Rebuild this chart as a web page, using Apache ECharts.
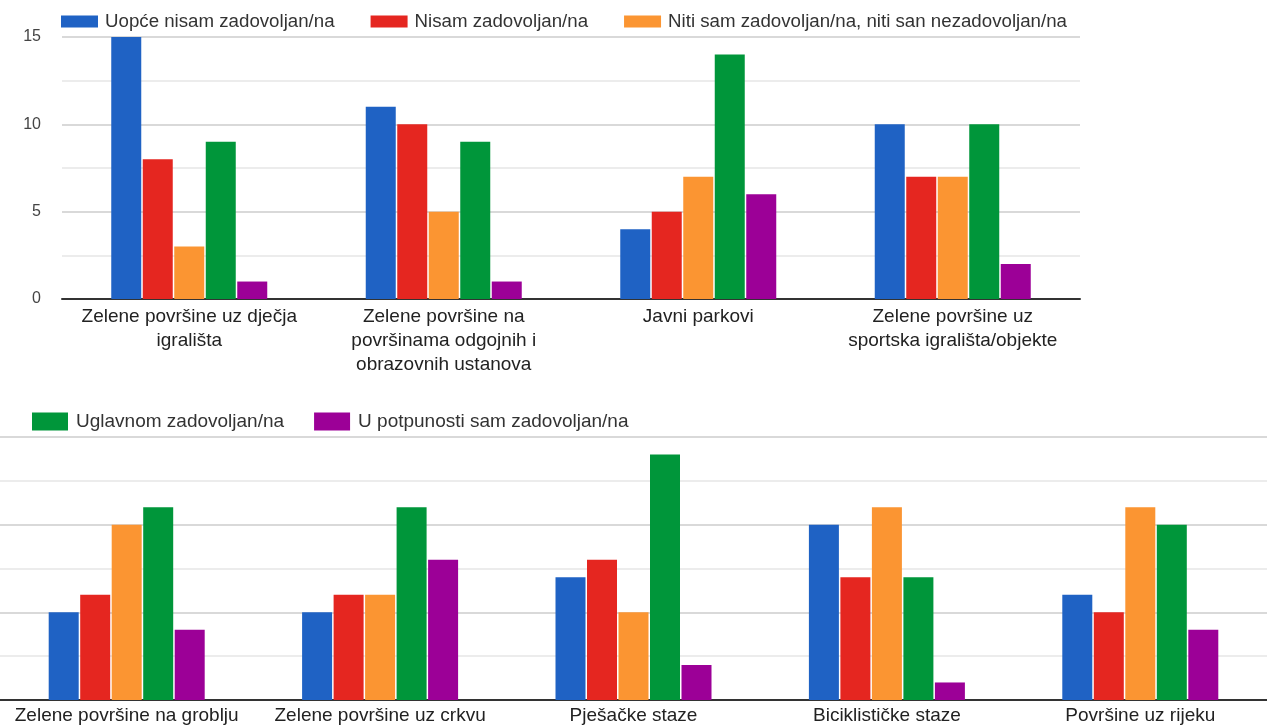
<!DOCTYPE html>
<html>
<head>
<meta charset="utf-8">
<script src="https://cdn.jsdelivr.net/npm/echarts@6/dist/echarts.min.js"></script>
<style>
  html, body { margin: 0; padding: 0; background: #fff; }
  #chart { width: 1267px; height: 726px; }
</style>
</head>
<body>
<div id="chart"></div>
<script>
const seriesNames = [
  'Uopće nisam zadovoljan/na',
  'Nisam zadovoljan/na',
  'Niti sam zadovoljan/na, niti san nezadovoljan/na',
  'Uglavnom zadovoljan/na',
  'U potpunosti sam zadovoljan/na'
];
const seriesColors = ['#1f62c4', '#e52620', '#fb9532', '#00963a', '#9c0097'];

const topCategories = [
  'Zelene površine uz dječja\nigrališta',
  'Zelene površine na\npovršinama odgojnih i\nobrazovnih ustanova',
  'Javni parkovi',
  'Zelene površine uz\nsportska igrališta/objekte'
];
const bottomCategories = [
  'Zelene površine na groblju',
  'Zelene površine uz crkvu',
  'Pješačke staze',
  'Biciklističke staze',
  'Površine uz rijeku'
];

const topUopce    = [15, 11, 4, 10];
const topNisam    = [8, 10, 5, 7];
const topNiti     = [3, 5, 7, 7];
const topUglavnom = [9, 9, 14, 10];
const topPotpuno  = [1, 1, 6, 2];

const bottomUopce    = [5, 5, 7, 10, 6];
const bottomNisam    = [6, 6, 8, 7, 5];
const bottomNiti     = [10, 6, 5, 11, 11];
const bottomUglavnom = [11, 11, 14, 7, 10];
const bottomPotpuno  = [4, 8, 2, 1, 4];

const yTicks = [0, 5, 10, 15];

const topData = [topUopce, topNisam, topNiti, topUglavnom, topPotpuno];
const bottomData = [bottomUopce, bottomNisam, bottomNiti, bottomUglavnom, bottomPotpuno];

const FONT = '"Liberation Sans", Arial, sans-serif';

function valueAxis(gridIndex, showLabels) {
  return {
    type: 'value', gridIndex: gridIndex,
    min: 0, max: 15, interval: 5,
    axisLine: { show: false }, axisTick: { show: false },
    axisLabel: {
      show: showLabels, margin: 21, color: '#444', fontSize: 16, fontFamily: FONT,
      formatter: v => (yTicks.indexOf(v) >= 0 ? String(v) : '')
    },
    splitLine: { show: true, lineStyle: { color: '#cccccc', width: 1.5 } },
    minorTick: { show: false, splitNumber: 2 },
    minorSplitLine: { show: true, lineStyle: { color: '#e6e6e6', width: 1.5 } }
  };
}

const series = [];
seriesNames.forEach((name, i) => {
  series.push({
    name: name, type: 'bar', xAxisIndex: 0, yAxisIndex: 0,
    data: topData[i], barWidth: 30, barGap: '5%',
    itemStyle: { color: seriesColors[i] }
  });
  series.push({
    name: name, type: 'bar', xAxisIndex: 1, yAxisIndex: 1,
    data: bottomData[i], barWidth: 30, barGap: '5%',
    itemStyle: { color: seriesColors[i] }
  });
});

const chart = echarts.init(document.getElementById('chart'), null, { renderer: 'canvas' });
chart.setOption({
  animation: false,
  backgroundColor: '#fff',
  legend: [
    {
      data: seriesNames.slice(0, 3),
      left: 56, top: 7, itemWidth: 37, itemHeight: 12, itemGap: 36,
      icon: 'rect',
      textStyle: { color: '#333', fontSize: 18.7, fontFamily: FONT, padding: [0, 0, 0, 2] }
    },
    {
      data: seriesNames.slice(3),
      left: 27, top: 407, itemWidth: 36, itemHeight: 18, itemGap: 30,
      icon: 'rect',
      textStyle: { color: '#333', fontSize: 19, fontFamily: FONT, padding: [0, 0, 0, 3] }
    }
  ],
  grid: [
    { left: 62, top: 37, width: 1018, height: 262, containLabel: false },
    { left: 0, top: 437, width: 1275, height: 263, containLabel: false }
  ],
  xAxis: [
    {
      type: 'category', gridIndex: 0, data: topCategories,
      axisLine: { lineStyle: { color: '#333', width: 2 } },
      axisTick: { show: false },
      axisLabel: { interval: 0, margin: 6, color: '#222', fontSize: 19, lineHeight: 24, fontFamily: FONT }
    },
    {
      type: 'category', gridIndex: 1, data: bottomCategories,
      axisLine: { lineStyle: { color: '#333', width: 2 } },
      axisTick: { show: false },
      axisLabel: { interval: 0, margin: 6, color: '#222', fontSize: 19, lineHeight: 20, fontFamily: FONT }
    }
  ],
  yAxis: [valueAxis(0, true), valueAxis(1, false)],
  series: series
});
</script>
</body>
</html>
